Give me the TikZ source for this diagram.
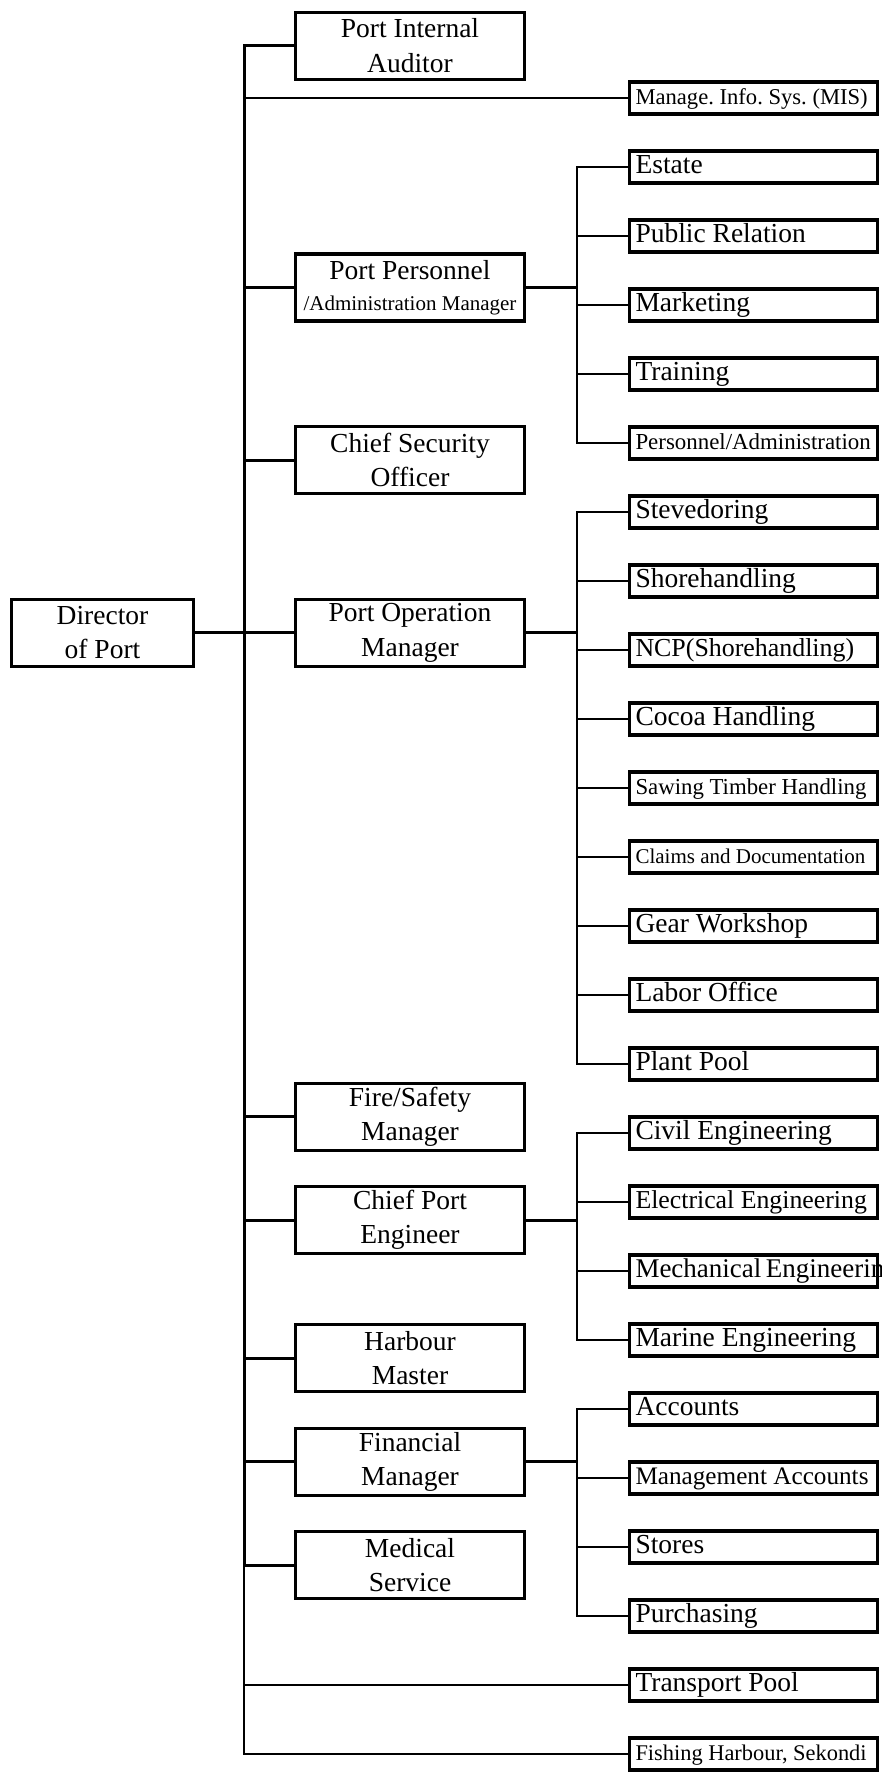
\documentclass[tikz,border=0pt]{standalone}
\usepackage{fontspec}
\setmainfont{Liberation Serif}
\usetikzlibrary{positioning}
\frenchspacing

\tikzset{
  box/.style={draw, line width=3.2pt, inner sep=0pt},
  head/.style={box, minimum width=182pt, minimum height=67pt, align=center,
    font=\fontsize{27.5}{34.5}\selectfont},
  mgr/.style={box, minimum width=229.5pt, minimum height=67pt, align=center,
    font=\fontsize{27.5}{34.5}\selectfont},
  unit/.style={box, minimum width=248pt, minimum height=32pt, inner xsep=6pt,
    text height=20.3pt, text depth=6.7pt,
    execute at begin node=\hbox to 236pt\bgroup,
    execute at end node=\hfil\egroup,
    font=\fontsize{27.5}{33}\selectfont},
  thick link/.style={line width=3pt},
  thin link/.style={line width=1.3pt},
}

\begin{document}
\begin{tikzpicture}[x=1pt, y=-1pt]
    \useasboundingbox (0,0) rectangle (881,1775);

    % 1. Director and managers
    \node[head] (dir) at (102.5,632.7) {Director\\of Port};
    \node[mgr] (pia) at (410,45.7) {Port Internal\\Auditor};
    \node[mgr] (ppm) at (410,287.5) {Port Personnel\\[-3pt]{\fontsize{21}{25}\selectfont /Administration Manager}};
    \node[mgr] (cso) at (410,460) {Chief Security\\Officer};
    \node[mgr] (pom) at (410,632.7) {Port Operation\\Manager};
    \node[mgr] (fsm) at (410,1116.7) {Fire/Safety\\Manager};
    \node[mgr] (cpe) at (410,1220) {Chief Port\\Engineer};
    \node[mgr] (hm) at (410,1358) {Harbour\\Master};
    \node[mgr] (fm) at (410,1461.7) {Financial\\Manager};
    \node[mgr] (ms) at (410,1565.3) {Medical\\Service};

    % 2. Units (one row every 69pt)
    \node[unit, font=\fontsize{22.6}{27}\selectfont] (mis) at (753.5,98) {Manage. Info. Sys. (MIS)};
    \node[unit] (est) at (753.5,167) {Estate};
    \node[unit] (pr) at (753.5,236) {Public Relation};
    \node[unit] (mkt) at (753.5,305) {Marketing};
    \node[unit] (trn) at (753.5,374) {Training};
    \node[unit, font=\fontsize{22.9}{27}\selectfont] (padm) at (753.5,443) {Personnel/Administration};
    \node[unit] (stv) at (753.5,512) {Stevedoring};
    \node[unit] (shr) at (753.5,581) {Shorehandling};
    \node[unit, font=\fontsize{25.9}{31}\selectfont] (ncp) at (753.5,650) {NCP(Shorehandling)};
    \node[unit] (coc) at (753.5,719) {Cocoa Handling};
    \node[unit, font=\fontsize{22.8}{27}\selectfont] (saw) at (753.5,788) {Sawing Timber Handling};
    \node[unit, font=\fontsize{21}{25}\selectfont] (clm) at (753.5,857) {Claims and Documentation};
    \node[unit] (gear) at (753.5,926) {Gear Workshop};
    \node[unit] (lab) at (753.5,995) {Labor Office};
    \node[unit] (plant) at (753.5,1064) {Plant Pool};
    \node[unit] (civ) at (753.5,1133) {Civil Engineering};
    \node[unit, font=\fontsize{25.8}{31}\selectfont] (elec) at (753.5,1202) {Electrical Engineering};
    \node[unit, font=\fontsize{27}{32}\selectfont] (mech) at (753.5,1271) {Mechanical Engineering};
    \node[unit] (mar) at (753.5,1340) {Marine Engineering};
    \node[unit] (acc) at (753.5,1409) {Accounts};
    \node[unit, font=\fontsize{25.2}{30}\selectfont] (macc) at (753.5,1478) {Management Accounts};
    \node[unit] (sto) at (753.5,1547) {Stores};
    \node[unit] (pur) at (753.5,1616) {Purchasing};
    \node[unit] (tpl) at (753.5,1685) {Transport Pool};
    \node[unit, font=\fontsize{22.4}{27}\selectfont] (fish) at (753.5,1754) {Fishing Harbour, Sekondi};

    % 3. Main trunk
    \coordinate (trunk) at (244,632.7);
    \draw[thick link] (pia.west) -| (ms.west -| trunk) -- (ms.west);
    \draw[thin link] (ms.west -| trunk) |- (fish.west);
    \draw[thick link] (dir.east) -- (trunk);
    \foreach \n in {ppm, cso, pom, fsm, cpe, hm, fm}
        \draw[thick link] (\n.west -| trunk) -- (\n.west);
    \draw[thin link] (mis.west -| trunk) -- (mis.west);
    \draw[thin link] (tpl.west -| trunk) -- (tpl.west);

    % 4. Sub-trunks
    \coordinate (hrbus) at (577,287.5);
    \draw[thick link] (ppm.east) -- (hrbus);
    \draw[thin link] (est.west) -| (hrbus) |- (padm.west);
    \foreach \n in {pr, mkt, trn}
        \draw[thin link] (\n.west -| hrbus) -- (\n.west);

    \coordinate (opbus) at (577,632.7);
    \draw[thick link] (pom.east) -- (opbus);
    \draw[thin link] (stv.west) -| (opbus) |- (plant.west);
    \foreach \n in {shr, ncp, coc, saw, clm, gear, lab}
        \draw[thin link] (\n.west -| opbus) -- (\n.west);

    \coordinate (engbus) at (577,1220);
    \draw[thick link] (cpe.east) -- (engbus);
    \draw[thin link] (civ.west) -| (engbus) |- (mar.west);
    \foreach \n in {elec, mech}
        \draw[thin link] (\n.west -| engbus) -- (\n.west);

    \coordinate (finbus) at (577,1461.7);
    \draw[thick link] (fm.east) -- (finbus);
    \draw[thin link] (acc.west) -| (finbus) |- (pur.west);
    \foreach \n in {macc, sto}
        \draw[thin link] (\n.west -| finbus) -- (\n.west);
\end{tikzpicture}
\end{document}
